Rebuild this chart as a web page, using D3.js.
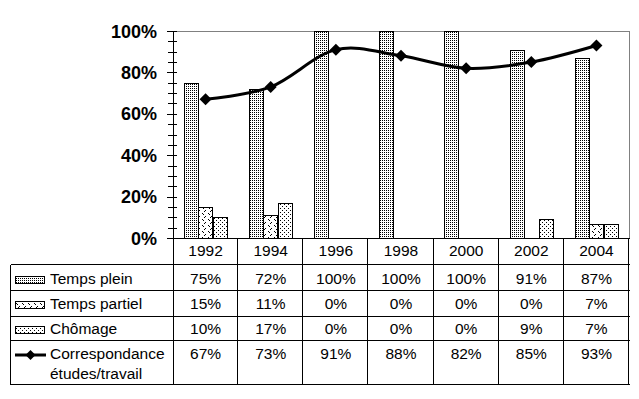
<!DOCTYPE html>
<html><head><meta charset="utf-8">
<script src="https://cdn.jsdelivr.net/npm/d3@7"></script>
<style>html,body{margin:0;padding:0;background:#fff;}svg{display:block;}</style>
</head><body>
<svg id="chart" width="639" height="399"></svg>
<script>
const years = ["1992","1994","1996","1998","2000","2002","2004"];
const tempsPlein = [0.75,0.72,1.00,1.00,1.00,0.91,0.87];
const tempsPartiel = [0.15,0.11,0,0,0,0,0.07];
const chomage = [0.10,0.17,0,0,0,0.09,0.07];
const correspondance = [0.67,0.73,0.91,0.88,0.82,0.85,0.93];
const yTicks = [0,0.2,0.4,0.6,0.8,1.0];
const seriesNames = ["Temps plein","Temps partiel","Chômage"];
const lineName = ["Correspondance","études/travail"];

const svg = d3.select("#chart");
const L=173, R=629, T=31, B=238;
const rowY=[238,264,290,316,340,384];
const tableLeft=10;
const FONT="'Liberation Sans', Arial, sans-serif";

// patterns
const defs = svg.append("defs");
function pat(id,w,h,pts){
  const p=defs.append("pattern").attr("id",id).attr("patternUnits","userSpaceOnUse")
    .attr("x",0).attr("y",0).attr("width",w).attr("height",h);
  p.append("rect").attr("width",w).attr("height",h).attr("fill","#fff");
  pts.forEach(([a,b])=>p.append("rect").attr("x",a).attr("y",b).attr("width",1).attr("height",1).attr("fill","#000"));
}
pat("pPlein",2,2,[[0,0]]);
pat("pPartiel",6,6,[[1,0],[0,1],[4,3],[5,4]]);
pat("pChom",4,4,[[0,0],[2,2]]);
const fills=["url(#pPlein)","url(#pPartiel)","url(#pChom)"];

const x = d3.scaleBand().domain(years).range([L,R]).padding(0);
const x1 = d3.scaleBand().domain(seriesNames).range([0,x.bandwidth()]).paddingInner(0).paddingOuter(0.75);
const y = d3.scaleLinear().domain([0,1]).range([B,T]);

// plot border (gray top & right)
svg.append("path").attr("d",`M${L},${T+0.5}H${R+0.5}V${B}`).attr("fill","none").attr("stroke","#808080").attr("stroke-width",1)
  .attr("shape-rendering","crispEdges");

// bars
const data=[tempsPlein,tempsPartiel,chomage];
data.forEach((arr,si)=>{
  svg.append("g").selectAll("rect").data(arr.map((v,i)=>({v,yr:years[i]})).filter(d=>d.v>0)).join("rect")
    .attr("x",d=>Math.round(x(d.yr)+x1(seriesNames[si]))+0.5)
    .attr("y",d=>Math.round(y(d.v))+0.5)
    .attr("width",Math.round(x1.bandwidth()))
    .attr("height",d=>Math.round(B)-Math.round(y(d.v)))
    .attr("fill",fills[si]).attr("stroke","#000").attr("stroke-width",1)
    .attr("shape-rendering","crispEdges");
});

// y axis ticks
const minor=d3.range(0,1.0001,0.05);
svg.append("g").selectAll("line").data(minor).join("line")
  .attr("x1",L-5).attr("x2",L+4)
  .attr("y1",d=>Math.round(y(d))+0.5).attr("y2",d=>Math.round(y(d))+0.5)
  .attr("stroke","#000").attr("shape-rendering","crispEdges");
svg.append("g").selectAll("line").data(yTicks).join("line")
  .attr("x1",L-6).attr("x2",L+4)
  .attr("y1",d=>Math.round(y(d))+0.5).attr("y2",d=>Math.round(y(d))+0.5)
  .attr("stroke","#000").attr("shape-rendering","crispEdges");
svg.append("g").selectAll("text").data(yTicks).join("text")
  .attr("x",L-16).attr("y",d=>y(d)+6.5).attr("text-anchor","end")
  .attr("font-family",FONT).attr("font-weight","bold").attr("font-size",18)
  .text(d=>d3.format(".0%")(d));

// line
const pts=correspondance.map((v,i)=>[x(years[i])+x.bandwidth()/2,y(v)]);
svg.append("path").attr("d",d3.line().curve(d3.curveCatmullRom.alpha(0))(pts))
  .attr("fill","none").attr("stroke","#000").attr("stroke-width",3);
const diamond=(cx,cy,r)=>`M${cx},${cy-r}L${cx+r},${cy}L${cx},${cy+r}L${cx-r},${cy}Z`;
svg.append("g").selectAll("path").data(pts).join("path")
  .attr("d",d=>diamond(d[0],d[1],6)).attr("fill","#000");

// table lines
const g=svg.append("g").attr("stroke","#000").attr("stroke-width",1).attr("shape-rendering","crispEdges");
g.append("line").attr("x1",L+0.5).attr("x2",L+0.5).attr("y1",T).attr("y2",rowY[5]+0.5);
g.append("line").attr("x1",L).attr("x2",R+0.5).attr("y1",B+0.5).attr("y2",B+0.5);
rowY.slice(1).forEach(r=>g.append("line").attr("x1",tableLeft+0.5).attr("x2",R+0.5).attr("y1",r+0.5).attr("y2",r+0.5));
g.append("line").attr("x1",tableLeft+0.5).attr("x2",tableLeft+0.5).attr("y1",rowY[1]+0.5).attr("y2",rowY[5]+0.5);
years.forEach(yr=>{
  const xe=Math.round(x(yr)+x.bandwidth());
  g.append("line").attr("x1",xe-0.5).attr("x2",xe-0.5).attr("y1",B).attr("y2",rowY[5]+0.5);
});

// table text
const baselines=[255.7,284,308.7,334,359.3];
const txt=(xx,yy,s,anchor)=>svg.append("text").attr("x",xx).attr("y",yy).attr("text-anchor",anchor||"middle")
  .attr("font-family",FONT).attr("font-size",15.5).attr("fill","#000").text(s);
const pf=d3.format(".0%");
years.forEach((yr,i)=>{
  const cx=x(yr)+x.bandwidth()/2;
  txt(cx,baselines[0],yr);
  txt(cx,baselines[1],pf(tempsPlein[i]));
  txt(cx,baselines[2],pf(tempsPartiel[i]));
  txt(cx,baselines[3],pf(chomage[i]));
  txt(cx,baselines[4],pf(correspondance[i]));
});
// legend entries
seriesNames.forEach((s,si)=>{
  const by=Math.round(baselines[si+1]);
  svg.append("rect").attr("x",15.5).attr("y",by-8+0.5).attr("width",29).attr("height",7)
    .attr("fill",fills[si]).attr("stroke","#000").attr("shape-rendering","crispEdges");
  txt(50,baselines[si+1],s,"start");
});
svg.append("line").attr("x1",15).attr("x2",46).attr("y1",355).attr("y2",355).attr("stroke","#000").attr("stroke-width",3);
svg.append("path").attr("d",diamond(30.5,355,5)).attr("fill","#000");
txt(50,baselines[4],lineName[0],"start");
txt(50,379,lineName[1],"start");
</script>
</body></html>
